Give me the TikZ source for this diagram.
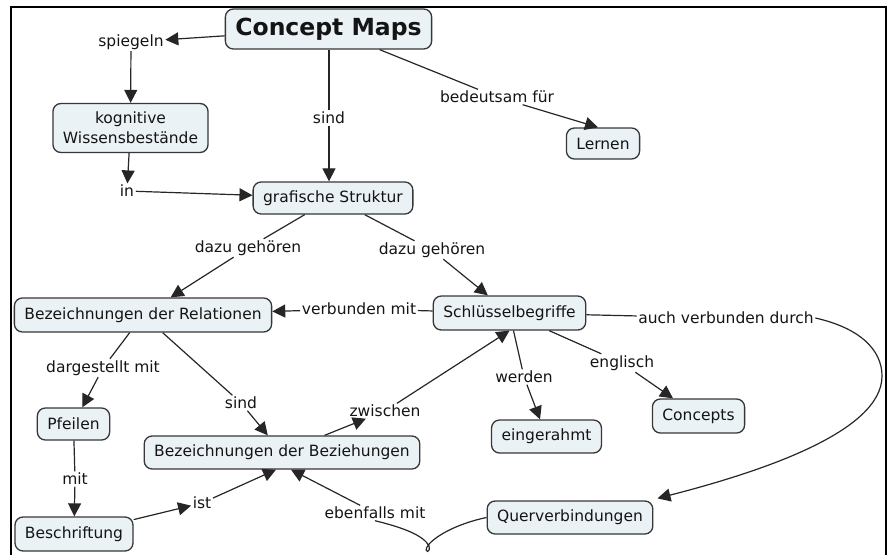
\documentclass[tikz,border=0pt]{standalone}
\usepackage{fontspec}
\setmainfont{DejaVu Sans}
\usetikzlibrary{arrows.meta,calc}
\definecolor{cfill}{RGB}{234,242,246}
\definecolor{cline}{RGB}{55,55,55}
\definecolor{ctext}{RGB}{20,20,20}
\begin{document}
\begin{tikzpicture}[x=1pt,y=-1pt,
  concept/.style={draw=cline, fill=cfill, rounded corners=8pt, line width=1.3pt,
    inner xsep=10pt, inner ysep=2pt, minimum height=33pt,
    font=\fontsize{15.5}{20}\selectfont, text=ctext},
  lab/.style={inner sep=1.5pt, font=\fontsize{15.5}{18}\selectfont, text=ctext},
  conn/.style={draw=black!85, line width=1.2pt},
  arr/.style={conn, -{Triangle[length=13pt,width=13pt]}},
]
\useasboundingbox (0,0) rectangle (890,554);
\draw[line width=2.2pt] (11,556) -- (11,7) -- (886,7) -- (886,556);

% concepts
\node[concept, font=\bfseries\fontsize{23.5}{27}\selectfont, minimum height=40pt] (cm) at (328.5,29) {Concept Maps};
\node[concept, align=center, minimum height=49pt] (kog) at (130.5,128) {kognitive\\Wissensbestände};
\node[concept, minimum height=31pt] (lernen) at (603,143.5) {Lernen};
\node[concept, minimum height=32pt] (graf) at (333,198) {grafische Struktur};
\node[concept, minimum height=34pt] (rel) at (143,315) {Bezeichnungen der Relationen};
\node[concept, minimum height=34pt] (schl) at (509.5,313) {Schlüsselbegriffe};
\node[concept, minimum height=32pt] (pfeilen) at (73.5,424) {Pfeilen};
\node[concept] (bez) at (282,452.5) {Bezeichnungen der Beziehungen};
\node[concept] (einger) at (546.5,436.5) {eingerahmt};
\node[concept, minimum height=34pt] (concepts) at (698.5,416) {Concepts};
\node[concept] (quer) at (570,517.5) {Querverbindungen};
\node[concept, minimum height=34pt] (beschr) at (74,534) {Beschriftung};

% labels
\node[lab] (spiegeln) at (131,42) {spiegeln};
\node[lab] (sind1) at (329,118) {sind};
\node[lab] (bed) at (497,97) {bedeutsam für};
\node[lab] (in) at (127,191) {in};
\node[lab] (dg1) at (248,248) {dazu gehören};
\node[lab] (dg2) at (432,250) {dazu gehören};
\node[lab] (vm) at (359,309) {verbunden mit};
\node[lab] (avd) at (726,318) {auch verbunden durch};
\node[lab] (dm) at (103,368) {dargestellt mit};
\node[lab] (sind2) at (241,403) {sind};
\node[lab] (zw) at (385,411) {zwischen};
\node[lab] (werden) at (524,377) {werden};
\node[lab] (engl) at (622,363) {englisch};
\node[lab] (mit) at (75,479) {mit};
\node[lab] (ist) at (202,503) {ist};
\node[lab] (ebm) at (375,513) {ebenfalls mit};

% connectors
\draw[arr] (cm) -- (spiegeln);
\draw[arr] (spiegeln) -- (kog);
\draw[conn] (cm.south -| sind1) -- (sind1);
\draw[arr] (sind1) -- (graf.north -| sind1);
\draw[conn] (cm) -- (bed);
\draw[arr] (bed) -- ($(lernen.north)+(-5,0)$);
\draw[arr] (kog) -- (in);
\draw[arr] (in) -- (graf);
\draw[conn] (graf) -- (dg1);
\draw[arr] (dg1) -- (rel);
\draw[conn] (graf) -- (dg2);
\draw[arr] (dg2) -- (schl);
\draw[conn] (schl) -- (vm);
\draw[arr] (vm) -- (rel);
\draw[conn] (schl) -- (avd);
\draw[arr] (avd.east) .. controls (860,328) and (882,350) .. (882,376)
   .. controls (882,432) and (760,472) .. ($(quer.north east)+(4,-2)$);
\draw[conn] (rel) -- (dm);
\draw[arr] (dm) -- (pfeilen);
\draw[conn] (rel) -- (sind2);
\draw[arr] (sind2) -- (bez);
\draw[arr] (bez) -- (zw);
\draw[arr] (zw) -- (schl.south);
\draw[conn] (schl) -- (werden);
\draw[arr] (werden) -- (einger);
\draw[conn] (schl) -- (engl);
\draw[arr] (engl) -- (concepts);
\draw[conn] (pfeilen) -- (mit);
\draw[arr] (mit) -- (beschr);
\draw[arr] (beschr) -- (ist);
\draw[arr] (ist) -- ($(bez.south)+(-6,0)$);
\draw[conn] (quer.west) .. controls (455,524) and (432,538) .. (427,547)
   .. controls (424,553) and (431,553) .. (429,546)
   .. controls (424,536) and (405,528) .. (ebm.south);
\draw[arr] (ebm) -- ($(bez.south)+(9,0)$);
\end{tikzpicture}
\end{document}
